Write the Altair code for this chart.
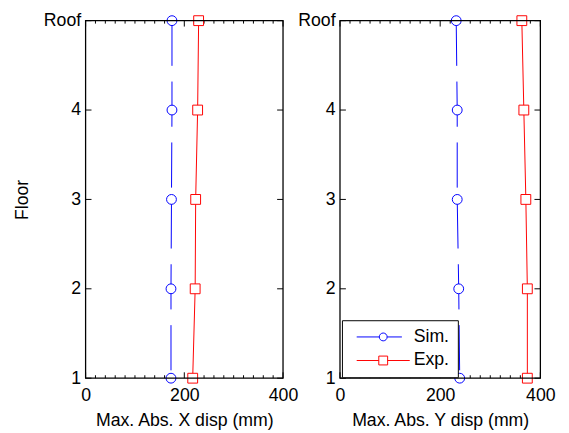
import altair as alt
import pandas as pd

# ---------------- data ----------------
floors = [1, 2, 3, 4, 5]
floor_labels = ["1", "2", "3", "4", "Roof"]
series_names = ["Sim.", "Exp."]

x_sim = [173, 173, 174, 175, 175]
x_exp = [217, 222, 223, 227, 229]
y_sim = [239, 237, 234, 234, 232]
y_exp = [374, 374, 371, 367, 363]

x_major = [0, 200, 400]
x_minor = [20, 40, 60, 80, 100, 120, 140, 160, 180, 220, 240, 260, 280,
           300, 320, 340, 360, 380]

colors = ["#0000FF", "#FF0000"]
FONT = "Liberation Sans"
FS = 18
H = 364

# custom legend symbols: line with marker in the middle
sym_circle = ("M-5.4,0 L-0.8,0 M0.8,0 L3.8,0 "
              "M-0.8,0 A0.8,0.8 0 1,0 0.8,0 A0.8,0.8 0 1,0 -0.8,0 Z")
sym_square = ("M-5.4,0 L-0.9,0 M0.9,0 L5.4,0 "
              "M-0.9,-0.9 L0.9,-0.9 L0.9,0.9 L-0.9,0.9 Z")

label_expr = ("datum.value == 5 ? 'Roof' : datum.value == 4 ? '4' : "
              "datum.value == 3 ? '3' : datum.value == 2 ? '2' : '1'")


def panel(sim_vals, exp_vals, xtitle, W, left, legend):
    df = pd.DataFrame({
        "floor": floors + floors,
        "disp": sim_vals + exp_vals,
        "series": ["Sim."] * len(floors) + ["Exp."] * len(floors),
    })
    xs = alt.Scale(domain=[0, 400], nice=False, zero=False)
    ys = alt.Scale(domain=[1, 5], nice=False, zero=False)
    cs = alt.Scale(domain=series_names, range=colors)

    xaxis = alt.Axis(values=x_major, ticks=False, domain=False, grid=False,
                     title=xtitle, format="d",
                     labelPadding=9, titlePadding=7, labelFlush=False)
    yaxis = alt.Axis(values=floors, ticks=False, domain=False, grid=False,
                     title="Floor" if left else None,
                     labelExpr=label_expr, labelPadding=5,
                     titlePadding=12, labelFlush=False)

    base = alt.Chart(df)
    x_enc = alt.X("disp:Q", scale=xs, axis=xaxis)
    y_enc = alt.Y("floor:Q", scale=ys, axis=yaxis)
    col = alt.Color("series:N", scale=cs, legend=None)

    sim_line = base.transform_filter(alt.datum.series == "Sim.").mark_line(
        strokeWidth=1, strokeDash=[46, 16]
    ).encode(x=x_enc, y=y_enc, color=col,
             order=alt.Order("floor:Q", sort="descending"))
    exp_line = base.transform_filter(alt.datum.series == "Exp.").mark_line(
        strokeWidth=1
    ).encode(x=x_enc, y=y_enc, color=col,
             order=alt.Order("floor:Q", sort="descending"))
    pts = base.mark_point(filled=False, fill="white", fillOpacity=1,
                          size=100, strokeWidth=1, opacity=1).encode(
        x=x_enc, y=y_enc, color=col,
        shape=alt.Shape("series:N", scale=alt.Scale(domain=series_names,
                                                    range=["circle", "square"]),
                        legend=None),
    )

    # frame
    frame = alt.Chart(pd.DataFrame({"f": [1]})).mark_rect(
        fill=None, fillOpacity=0, stroke="black", strokeWidth=1.3
    ).encode(x=alt.value(0), x2=alt.value(W), y=alt.value(0), y2=alt.value(H))

    # inward tick marks (MATLAB style)
    tdf_maj = pd.DataFrame({"disp": x_major})
    tdf_min = pd.DataFrame({"disp": x_minor})
    tdf_y = pd.DataFrame({"floor": floors})
    tick_layers = []
    for d, ln in [(tdf_maj, 6), (tdf_min, 3)]:
        tick_layers.append(alt.Chart(d).mark_rule(color="black", strokeWidth=1).encode(
            x=x_enc, y=alt.value(H), y2=alt.value(H - ln)))
        tick_layers.append(alt.Chart(d).mark_rule(color="black", strokeWidth=1).encode(
            x=x_enc, y=alt.value(0), y2=alt.value(ln)))
    tick_layers.append(alt.Chart(tdf_y).mark_rule(color="black", strokeWidth=1).encode(
        y=y_enc, x=alt.value(0), x2=alt.value(6)))
    tick_layers.append(alt.Chart(tdf_y).mark_rule(color="black", strokeWidth=1).encode(
        y=y_enc, x=alt.value(W), x2=alt.value(W - 6)))

    layers = [sim_line, exp_line] + tick_layers + [pts, frame]

    if legend:
        lcs = alt.Scale(domain=series_names, range=colors)
        lss = alt.Scale(domain=series_names, range=[sym_circle, sym_square])
        leg_props = dict(title=None, orient="none", legendX=2, legendY=305,
                         strokeColor="black", fillColor="white", padding=8,
                         symbolSize=100, symbolStrokeWidth=1,
                         symbolOffset=25, labelOffset=22, rowPadding=6,
                         symbolFillColor="white")
        leg = alt.Chart(pd.DataFrame({"lser": series_names})).mark_point(
            filled=False, size=100, strokeWidth=1, opacity=0
        ).encode(
            x=alt.value(W / 2), y=alt.value(H / 2),
            color=alt.Color("lser:N", scale=lcs, legend=alt.Legend(**leg_props)),
            shape=alt.Shape("lser:N", scale=lss, legend=alt.Legend(**leg_props)),
        )
        layers.append(leg)

    return alt.layer(*layers).resolve_scale(
        color="independent", shape="independent"
    ).properties(width=W, height=H)


left = panel(x_sim, x_exp, "Max. Abs. X disp (mm)", 201, True, False)
right = panel(y_sim, y_exp, "Max. Abs. Y disp (mm)", 204, False, True)

chart = alt.hconcat(left, right, spacing=58, bounds="flush").resolve_scale(
    color="independent", shape="independent"
).properties(
    padding={"left": 5, "top": 0, "right": 5, "bottom": 5},
    background="white",
).configure_view(stroke=None).configure_axis(
    labelFont=FONT, titleFont=FONT, labelFontSize=FS, titleFontSize=FS,
    labelColor="black", titleColor="black", titleFontWeight="normal",
).configure_legend(
    labelFont=FONT, labelFontSize=FS, labelColor="black", symbolOpacity=1,
)

chart.save("out.html", embed_options={"renderer": "svg", "actions": False})
